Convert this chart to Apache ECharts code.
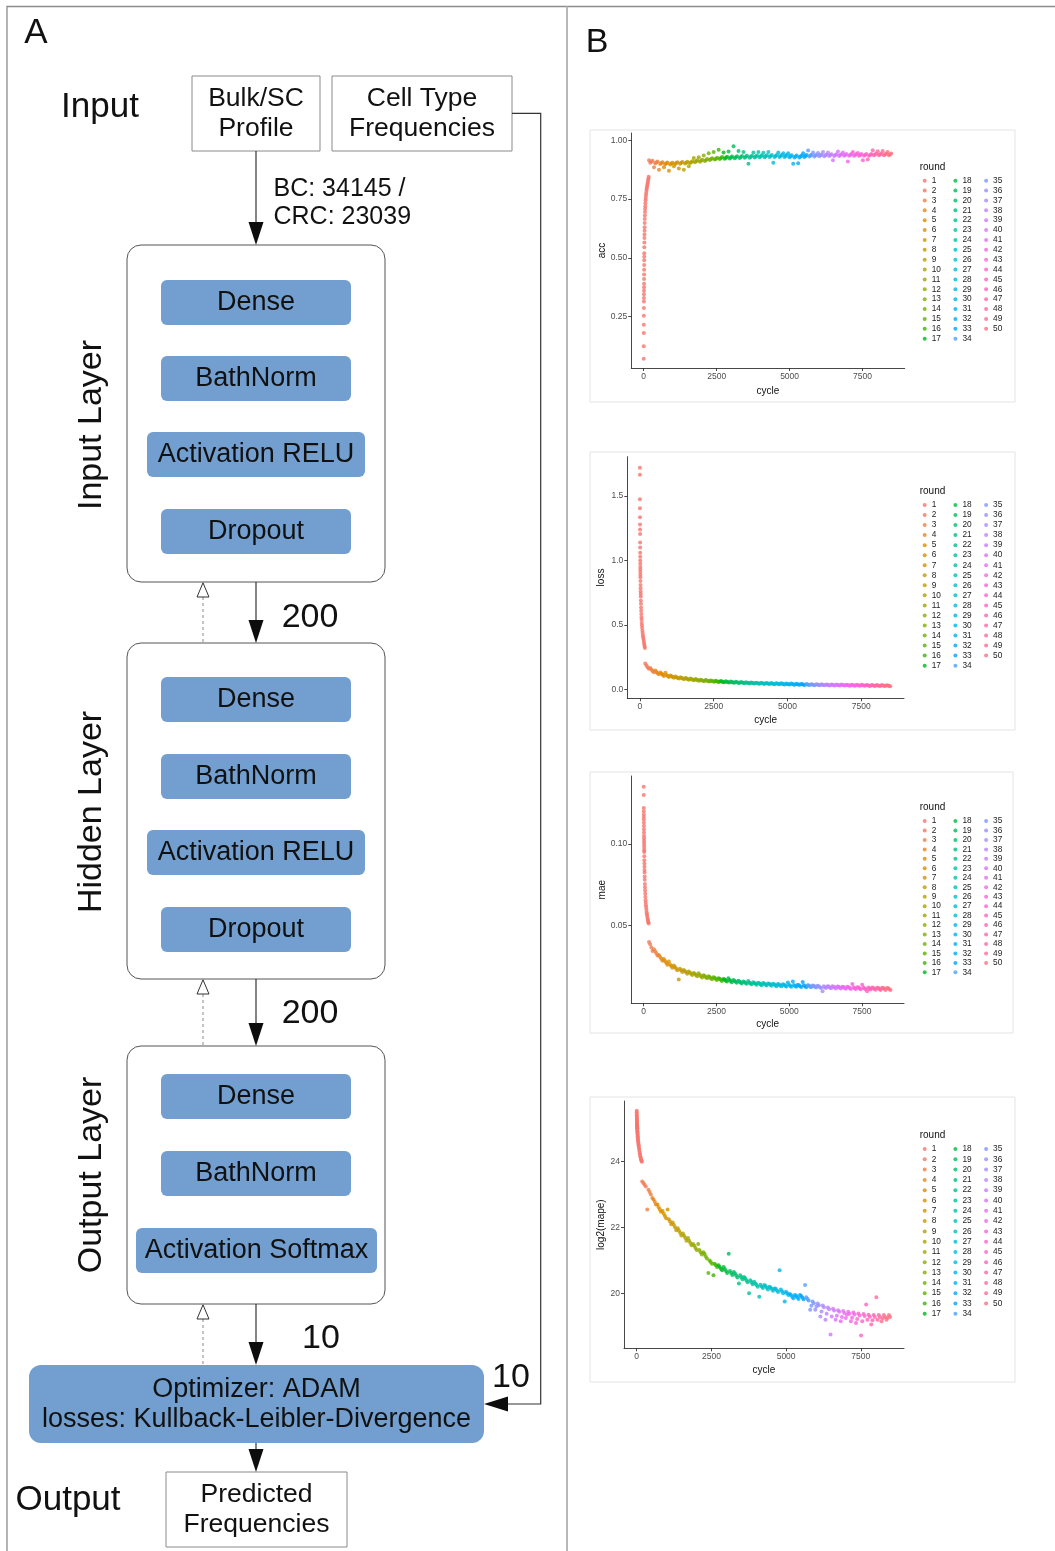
<!DOCTYPE html>
<html>
<head>
<meta charset="utf-8">
<script src="https://cdn.jsdelivr.net/npm/echarts@6.0.0/dist/echarts.min.js"></script>
<style>
  html, body { margin: 0; padding: 0; background: #ffffff; }
  #chart { width: 1055px; height: 1551px; }
</style>
</head>
<body>
<div id="chart"></div>
<script>
// ---------------- data ----------------
const rounds = Array.from({ length: 50 }, (_, i) => String(i + 1));
const cyclesPerRound = 170.4;
// epochs sampled inside each of rounds 2..50 (offset from the round start)
const sampleOffsets = [12, 52, 92, 132];

const cycleTicks = [0, 2500, 5000, 7500];
const accTicks = [0.25, 0.5, 0.75, 1.0];
const lossTicks = [0, 0.5, 1.0, 1.5];
const maeTicks = [0.05, 0.10];
const mapeTicks = [20, 22, 24];

// round 1: the first training round, sampled more densely
const roundOneCycles = [0,1,2,3,4,5,6,7,8,9,10,11,12,13,14,15,16,17,18,20,22,24,26,28,30,33,36,40,44,48,53,58,64,70,77,85,93,102,111,121,131,141,151,161,170];

const accRoundOne = [0.071,0.124,0.181,0.216,0.254,0.287,0.315,0.330,0.345,0.360,0.375,0.390,0.410,0.430,0.450,0.470,0.490,0.505,0.520,0.545,0.565,0.585,0.600,0.615,0.630,0.648,0.665,0.680,0.695,0.708,0.720,0.732,0.745,0.755,0.765,0.775,0.785,0.793,0.800,0.808,0.815,0.822,0.830,0.838,0.845];
const lossRoundOne = [1.720,1.665,1.475,1.405,1.335,1.280,1.240,1.205,1.140,1.100,1.060,1.030,1.000,0.975,0.950,0.930,0.910,0.890,0.870,0.840,0.810,0.785,0.760,0.740,0.720,0.690,0.665,0.635,0.610,0.585,0.560,0.540,0.515,0.495,0.475,0.455,0.437,0.420,0.405,0.390,0.375,0.360,0.345,0.333,0.320];
const maeRoundOne = [0.1350,0.1300,0.1220,0.1200,0.1180,0.1165,0.1150,0.1130,0.1110,0.1090,0.1070,0.1050,0.1035,0.1020,0.1005,0.0990,0.0975,0.0960,0.0950,0.0925,0.0900,0.0880,0.0860,0.0840,0.0825,0.0800,0.0780,0.0755,0.0735,0.0715,0.0695,0.0675,0.0655,0.0640,0.0625,0.0610,0.0595,0.0580,0.0570,0.0558,0.0547,0.0537,0.0528,0.0520,0.0512];
const mapeRoundOne = [25.55,25.50,25.45,25.41,25.37,25.33,25.30,25.27,25.24,25.21,25.18,25.15,25.13,25.10,25.08,25.06,25.04,25.02,25.00,24.96,24.93,24.90,24.87,24.84,24.81,24.77,24.74,24.70,24.66,24.62,24.58,24.54,24.50,24.46,24.41,24.36,24.31,24.26,24.21,24.16,24.12,24.08,24.05,24.02,24.00];

// rounds 2..50, four sampled epochs per round
const accLater = [
  0.915,0.905,0.909,0.913, 0.885,0.902,0.906,0.910, 0.875,0.899,0.903,0.907, 0.885,0.898,0.902,0.906,
  0.870,0.897,0.901,0.905, 0.890,0.899,0.903,0.907, 0.880,0.900,0.904,0.908, 0.875,0.901,0.905,0.909,
  0.890,0.903,0.907,0.911, 0.925,0.907,0.911,0.915, 0.928,0.909,0.913,0.917, 0.935,0.912,0.916,0.920,
  0.945,0.916,0.920,0.924, 0.950,0.918,0.922,0.926, 0.960,0.921,0.925,0.929, 0.948,0.922,0.926,0.930,
  0.952,0.923,0.927,0.931, 0.975,0.924,0.928,0.932, 0.955,0.925,0.929,0.933, 0.950,0.926,0.930,0.934,
  0.900,0.926,0.930,0.934, 0.948,0.927,0.931,0.935, 0.950,0.928,0.932,0.936, 0.947,0.928,0.932,0.936,
  0.950,0.929,0.933,0.937, 0.905,0.929,0.933,0.937, 0.948,0.929,0.933,0.937, 0.945,0.929,0.933,0.937,
  0.945,0.928,0.932,0.936, 0.900,0.927,0.931,0.935, 0.902,0.927,0.931,0.935, 0.945,0.929,0.933,0.937,
  0.957,0.931,0.935,0.939, 0.948,0.931,0.935,0.939, 0.946,0.932,0.936,0.940, 0.950,0.932,0.936,0.940,
  0.948,0.933,0.937,0.941, 0.915,0.933,0.937,0.941, 0.952,0.933,0.937,0.941, 0.948,0.934,0.938,0.942,
  0.910,0.934,0.938,0.942, 0.950,0.934,0.938,0.942, 0.946,0.934,0.938,0.942, 0.915,0.934,0.938,0.942,
  0.918,0.934,0.938,0.942, 0.958,0.936,0.940,0.944, 0.953,0.936,0.940,0.944, 0.955,0.936,0.940,0.944,
  0.950,0.936,0.940,0.944
];
const lossLater = [
  0.200,0.185,0.172,0.160, 0.165,0.152,0.142,0.132, 0.145,0.134,0.125,0.116, 0.130,0.120,0.112,0.104,
  0.128,0.110,0.103,0.096, 0.108,0.101,0.095,0.089, 0.100,0.094,0.088,0.083, 0.094,0.088,0.083,0.078,
  0.088,0.083,0.078,0.074, 0.083,0.078,0.074,0.070, 0.079,0.074,0.070,0.066, 0.075,0.071,0.067,0.063,
  0.072,0.068,0.064,0.061, 0.069,0.065,0.062,0.058, 0.066,0.063,0.059,0.056, 0.064,0.060,0.057,0.054,
  0.062,0.058,0.055,0.052, 0.060,0.056,0.053,0.050, 0.058,0.054,0.051,0.048, 0.056,0.053,0.050,0.047,
  0.054,0.051,0.048,0.045, 0.053,0.050,0.047,0.044, 0.051,0.048,0.045,0.043, 0.050,0.047,0.044,0.042,
  0.049,0.046,0.043,0.041, 0.048,0.045,0.042,0.040, 0.047,0.044,0.041,0.039, 0.046,0.043,0.040,0.038,
  0.045,0.042,0.039,0.037, 0.044,0.041,0.038,0.036, 0.043,0.040,0.037,0.035, 0.042,0.039,0.036,0.034,
  0.041,0.038,0.035,0.033, 0.040,0.037,0.034,0.032, 0.040,0.037,0.034,0.032, 0.039,0.036,0.033,0.031,
  0.038,0.035,0.032,0.030, 0.038,0.035,0.032,0.030, 0.037,0.034,0.031,0.029, 0.037,0.034,0.031,0.029,
  0.036,0.033,0.030,0.028, 0.036,0.033,0.030,0.028, 0.035,0.032,0.029,0.027, 0.035,0.032,0.029,0.027,
  0.034,0.031,0.028,0.026, 0.034,0.031,0.028,0.026, 0.033,0.030,0.027,0.025, 0.033,0.030,0.027,0.025,
  0.032,0.029,0.026,0.024
];
const maeLater = [
  0.0400,0.0385,0.0365,0.0345, 0.0355,0.0342,0.0330,0.0316, 0.0320,0.0308,0.0297,0.0284, 0.0295,0.0283,0.0272,0.0260,
  0.0280,0.0262,0.0253,0.0242, 0.0255,0.0247,0.0237,0.0227, 0.0170,0.0235,0.0226,0.0216, 0.0228,0.0222,0.0214,0.0205,
  0.0218,0.0213,0.0205,0.0197, 0.0210,0.0205,0.0197,0.0189, 0.0208,0.0198,0.0190,0.0182, 0.0196,0.0191,0.0184,0.0177,
  0.0190,0.0185,0.0178,0.0171, 0.0184,0.0180,0.0173,0.0166, 0.0178,0.0175,0.0168,0.0161, 0.0173,0.0170,0.0164,0.0157,
  0.0178,0.0166,0.0160,0.0153, 0.0166,0.0162,0.0156,0.0150, 0.0162,0.0158,0.0152,0.0146, 0.0158,0.0155,0.0149,0.0143,
  0.0160,0.0152,0.0146,0.0140, 0.0153,0.0149,0.0143,0.0137, 0.0150,0.0147,0.0141,0.0135, 0.0148,0.0145,0.0139,0.0133,
  0.0146,0.0143,0.0137,0.0131, 0.0144,0.0141,0.0135,0.0129, 0.0142,0.0139,0.0133,0.0128, 0.0140,0.0138,0.0132,0.0127,
  0.0152,0.0137,0.0131,0.0126, 0.0157,0.0136,0.0130,0.0125, 0.0137,0.0135,0.0129,0.0124, 0.0154,0.0134,0.0128,0.0123,
  0.0135,0.0133,0.0127,0.0122, 0.0133,0.0131,0.0125,0.0120, 0.0131,0.0129,0.0123,0.0118, 0.0098,0.0128,0.0122,0.0117,
  0.0129,0.0127,0.0121,0.0116, 0.0128,0.0126,0.0120,0.0115, 0.0127,0.0125,0.0119,0.0114, 0.0126,0.0124,0.0118,0.0113,
  0.0125,0.0123,0.0117,0.0112, 0.0142,0.0122,0.0116,0.0111, 0.0123,0.0121,0.0115,0.0110, 0.0137,0.0121,0.0115,0.0110,
  0.0098,0.0120,0.0114,0.0109, 0.0120,0.0118,0.0112,0.0107, 0.0119,0.0117,0.0111,0.0106, 0.0119,0.0117,0.0111,0.0106,
  0.0118,0.0116,0.0110,0.0105
];
const mapeLater = [
  23.40,23.35,23.30,23.25, 22.55,23.15,23.08,23.00, 22.90,22.85,22.78,22.70, 22.70,22.62,22.55,22.48,
  22.50,22.42,22.35,22.28, 22.55,22.25,22.18,22.10, 22.15,22.08,22.00,21.92, 21.98,21.90,21.83,21.76,
  21.82,21.75,21.68,21.60, 21.68,21.60,21.53,21.46, 21.50,21.45,21.38,21.32, 21.50,21.32,21.25,21.18,
  21.25,21.20,21.13,21.06, 20.62,21.00,20.95,20.90, 20.55,20.90,20.85,20.80, 20.85,20.80,20.75,20.70,
  20.80,20.74,20.68,20.62, 21.20,20.68,20.62,20.56, 20.65,20.60,20.54,20.48, 20.30,20.55,20.49,20.43,
  20.50,20.46,20.40,20.34, 20.00,20.40,20.34,20.28, 20.35,20.30,20.25,20.20, 19.90,20.26,20.21,20.16,
  20.25,20.22,20.17,20.12, 20.20,20.18,20.13,20.08, 20.15,20.14,20.09,20.04, 20.70,20.12,20.06,20.00,
  19.75,20.05,20.00,19.95, 19.98,19.95,19.90,19.85, 19.95,19.93,19.88,19.83, 19.95,19.92,19.87,19.82,
  20.25,19.88,19.83,19.78, 19.50,19.62,19.75,19.70, 19.50,19.60,19.69,19.64, 19.30,19.45,19.63,19.58,
  19.20,19.38,19.57,19.52, 18.75,19.30,19.53,19.48, 19.20,19.32,19.49,19.44, 19.15,19.28,19.46,19.40,
  19.25,19.35,19.44,19.38, 19.15,19.26,19.42,19.36, 19.10,19.22,19.39,19.33, 18.72,19.15,19.37,19.31,
  19.66,19.20,19.35,19.29, 19.05,19.18,19.34,19.28, 19.88,19.20,19.34,19.28, 19.15,19.24,19.34,19.28,
  19.20,19.26,19.34,19.28
];

// ---------------- styling helpers ----------------
const FONT = '"Liberation Sans", Arial, Helvetica, sans-serif';
const BOX_BLUE = '#729fcf';
const INK = '#111111';

// ggplot-style hue palette: polar LUV (hcl) to sRGB
function hclColor(h, c, l) {
  const hr = h * Math.PI / 180;
  const U = c * Math.cos(hr), V = c * Math.sin(hr);
  const Xn = 95.047, Yn = 100.0, Zn = 108.883;
  const den = Xn + 15 * Yn + 3 * Zn;
  const un = 4 * Xn / den, vn = 9 * Yn / den;
  const Y = Yn * Math.pow((l + 16) / 116, 3);
  const u = U / (13 * l) + un, v = V / (13 * l) + vn;
  const X = Y * 9 * u / (4 * v);
  const Z = Y * (12 - 3 * u - 20 * v) / (4 * v);
  const x = X / 100, y = Y / 100, z = Z / 100;
  const lin = [
    3.240479 * x - 1.537150 * y - 0.498535 * z,
    -0.969256 * x + 1.875992 * y + 0.041556 * z,
    0.055648 * x - 0.204043 * y + 1.057311 * z
  ];
  const ch = lin.map(t => {
    const g = t <= 0.0031308 ? 12.92 * t : 1.055 * Math.pow(t, 1 / 2.4) - 0.055;
    return Math.round(Math.min(1, Math.max(0, g)) * 255);
  });
  return 'rgb(' + ch.join(',') + ')';
}
const roundColors = rounds.map((_, i) => hclColor(15 + i * 360 / rounds.length, 100, 65));

// ---------------- panel B layout ----------------
const panels = [
  { title: 'acc', first: accRoundOne, later: accLater, ticks: accTicks, digits: 2,
    grid: { left: 631.3, top: 133, width: 273.4, height: 235 }, yMin: 0.032, yMax: 1.031,
    xGap: 18.5, yGap: 24.5, frame: [590, 130, 425, 272],
    legend: { top: 180.7, pitch: 9.875 }, roundY: 167 },
  { title: 'loss', first: lossRoundOne, later: lossLater, ticks: lossTicks, digits: 1,
    grid: { left: 627.3, top: 456.7, width: 276.7, height: 241.6 }, yMin: -0.07, yMax: 1.806,
    xGap: 16.5, yGap: 21, frame: [590, 452, 425, 278],
    legend: { top: 505, pitch: 10.04 }, roundY: 491.7 },
  { title: 'mae', first: maeRoundOne, later: maeLater, ticks: maeTicks, digits: 2,
    grid: { left: 631.3, top: 776, width: 272.7, height: 227.3 }, yMin: 0.0024, yMax: 0.1416,
    xGap: 16, yGap: 24.5, frame: [590, 772, 423, 261],
    legend: { top: 821, pitch: 9.46 }, roundY: 807.3 },
  { title: 'log2(mape)', first: mapeRoundOne, later: mapeLater, ticks: mapeTicks, digits: 0,
    grid: { left: 624, top: 1101, width: 280, height: 247.3 }, yMin: 18.33, yMax: 25.845,
    xGap: 17, yGap: 17, frame: [590, 1097, 425, 285],
    legend: { top: 1149, pitch: 10.3 }, roundY: 1135 }
];

const axisLineStyle = { color: '#333333', width: 0.9 };

const grids = panels.map(p => Object.assign({}, p.grid, { containLabel: false }));

const xAxes = panels.map((p, i) => ({
  type: 'value', gridIndex: i, min: -426, max: 8946,
  name: 'cycle', nameLocation: 'middle', nameGap: p.xGap,
  nameTextStyle: { fontSize: 10, color: INK, fontFamily: FONT },
  axisLine: { show: true, onZero: false, lineStyle: axisLineStyle },
  axisTick: { show: true, length: 3, customValues: cycleTicks, lineStyle: axisLineStyle },
  axisLabel: { customValues: cycleTicks, fontSize: 8.5, color: '#4d4d4d', margin: 4, fontFamily: FONT,
    formatter: v => String(v) },
  splitLine: { show: false }
}));

const yAxes = panels.map((p, i) => ({
  type: 'value', gridIndex: i, min: p.yMin, max: p.yMax,
  name: p.title, nameLocation: 'middle', nameGap: p.yGap,
  nameTextStyle: { fontSize: 10, color: INK, fontFamily: FONT },
  axisLine: { show: true, onZero: false, lineStyle: axisLineStyle },
  axisTick: { show: true, length: 3, customValues: p.ticks, lineStyle: axisLineStyle },
  axisLabel: { customValues: p.ticks, fontSize: 8.5, color: '#4d4d4d', margin: 4, fontFamily: FONT,
    formatter: v => Number(v).toFixed(p.digits) },
  splitLine: { show: false }
}));

const series = [];
panels.forEach((p, pi) => {
  rounds.forEach((name, ri) => {
    const data = ri === 0
      ? roundOneCycles.map((c, k) => [c, p.first[k]])
      : sampleOffsets.map((o, k) => [ri * cyclesPerRound + o, p.later[(ri - 1) * sampleOffsets.length + k]]);
    series.push({
      type: 'scatter', name, xAxisIndex: pi, yAxisIndex: pi, data,
      symbol: 'circle', symbolSize: 4,
      itemStyle: { color: roundColors[ri], borderWidth: 0 },
      emphasis: { disabled: true }, silent: true
    });
  });
});

const legendGap = 0.7;
const legends = panels.map(p => {
  const lh = p.legend.pitch - legendGap;
  return {
    data: rounds, orient: 'vertical', left: 922.7, top: p.legend.top - lh / 2,
    height: lh * 17 + legendGap * 16 + 3, padding: 0, itemGap: legendGap,
    itemWidth: 4, itemHeight: 4, itemTextGap: 4.3, icon: 'circle', selectedMode: false,
    itemStyle: { borderWidth: 0 },
    textStyle: { fontSize: 8.3, lineHeight: lh, width: 21, color: '#222222', fontFamily: FONT }
  };
});

// ---------------- panel A: network diagram ----------------
function text(x, y, str, size, opt) {
  opt = opt || {};
  return {
    type: 'text', x, y, rotation: opt.rotation || 0, z: 10,
    style: {
      text: str, fontSize: size, fontFamily: FONT, fill: opt.fill || INK,
      align: opt.align || 'center', verticalAlign: 'middle',
      textAlign: opt.align || 'center', textVerticalAlign: 'middle',
      lineHeight: opt.lineHeight || Math.round(size * 1.15)
    }
  };
}
function rect(x, y, w, h, r, fill, stroke, lw) {
  return { type: 'rect', z: 5, shape: { x, y, width: w, height: h, r },
    style: { fill: fill, stroke: stroke || null, lineWidth: stroke ? (lw || 1) : 0 } };
}
function arrowDown(x, y1, y2) {
  return [
    { type: 'line', z: 6, shape: { x1: x, y1: y1, x2: x, y2: y2 - 20 }, style: { stroke: '#333333', lineWidth: 1.2 } },
    { type: 'polygon', z: 7, shape: { points: [[x, y2], [x - 7.5, y2 - 23], [x + 7.5, y2 - 23]] }, style: { fill: '#0d0d0d' } }
  ];
}
function backArrow(x, yTop, yBottom) {
  return [
    { type: 'line', z: 6, shape: { x1: x, y1: yTop + 15, x2: x, y2: yBottom }, style: { stroke: '#8a8a8a', lineWidth: 1, lineDash: [3, 3] } },
    { type: 'polygon', z: 7, shape: { points: [[x, yTop + 0.8], [x - 6, yTop + 15], [x + 6, yTop + 15]] }, style: { fill: '#ffffff', stroke: '#333333', lineWidth: 1 } }
  ];
}

const layerBoxes = [
  ['Dense', 161, 280, 190], ['BathNorm', 161, 356, 190], ['Activation RELU', 147, 432, 218], ['Dropout', 161, 509, 190],
  ['Dense', 161, 677, 190], ['BathNorm', 161, 754, 190], ['Activation RELU', 147, 830, 218], ['Dropout', 161, 907, 190],
  ['Dense', 161, 1074, 190], ['BathNorm', 161, 1151, 190], ['Activation Softmax', 136, 1228, 241]
];

const g = [];
// figure frame and panel divider
g.push({ type: 'polyline', z: 1, shape: { points: [[7, 1551], [7, 6.5], [1055, 6.5]] }, style: { stroke: '#8c8c8c', lineWidth: 1.3, fill: null } });
g.push({ type: 'line', z: 1, shape: { x1: 567, y1: 6.5, x2: 567, y2: 1551 }, style: { stroke: '#b8b8b8', lineWidth: 2 } });

g.push(text(36, 33, 'A', 35));
g.push(text(597, 43, 'B', 34));
g.push(text(100, 107, 'Input', 35));
g.push(text(68, 1500, 'Output', 35));

// input boxes
g.push(rect(192, 76, 128, 75, 0, '#ffffff', '#8a8a8a'));
g.push(text(256, 113.5, 'Bulk/SC\nProfile', 26.5, { lineHeight: 30 }));
g.push(rect(332, 76, 180, 75, 0, '#ffffff', '#8a8a8a'));
g.push(text(422, 113.5, 'Cell Type\nFrequencies', 26.5, { lineHeight: 30 }));

// reference frequencies routed to the loss
g.push({ type: 'polyline', z: 6, shape: { points: [[512, 113.3], [540.7, 113.3], [540.7, 1404], [506, 1404]] }, style: { stroke: '#333333', lineWidth: 1.2, fill: null } });
g.push({ type: 'polygon', z: 7, shape: { points: [[484, 1404], [508, 1396.5], [508, 1411.5]] }, style: { fill: '#0d0d0d' } });
g.push(text(511, 1378, '10', 34));

// input arrow
g.push(...arrowDown(256, 151, 245));
g.push(text(273.5, 203.3, 'BC: 34145 /\nCRC: 23039', 25, { align: 'left', lineHeight: 28 }));

// layer containers
g.push(rect(127, 245, 258, 337, 14, null, '#555555'));
g.push(rect(127, 643, 258, 336, 14, null, '#555555'));
g.push(rect(127, 1046, 258, 258, 14, null, '#555555'));
g.push(text(92, 425, 'Input Layer', 34, { rotation: Math.PI / 2 }));
g.push(text(92, 812, 'Hidden Layer', 34, { rotation: Math.PI / 2 }));
g.push(text(92, 1175, 'Output Layer', 34, { rotation: Math.PI / 2 }));

layerBoxes.forEach(b => {
  g.push(rect(b[1], b[2], b[3], 45, 6, BOX_BLUE, null));
  g.push(text(b[1] + b[3] / 2, b[2] + 23, b[0], 27));
});

// forward pass arrows and layer widths
g.push(...arrowDown(256, 582, 643));
g.push(text(310, 617.5, '200', 34));
g.push(...arrowDown(256, 979, 1046));
g.push(text(310, 1014, '200', 34));
g.push(...arrowDown(256, 1304, 1365));
g.push(text(321, 1339, '10', 34));

// backpropagation arrows
g.push(...backArrow(203, 582, 643));
g.push(...backArrow(203, 979, 1046));
g.push(...backArrow(203, 1304, 1365));

// optimizer and output
g.push(rect(29, 1365, 455, 78, 12, BOX_BLUE, null));
g.push(text(256.5, 1405, 'Optimizer: ADAM\nlosses: Kullback-Leibler-Divergence', 27, { lineHeight: 30 }));
g.push(...arrowDown(256, 1443, 1472));
g.push(rect(166, 1472, 181, 75, 0, '#ffffff', '#8a8a8a'));
g.push(text(256.5, 1510, 'Predicted\nFrequencies', 26.5, { lineHeight: 30 }));

// panel B: plot frames and legend titles
panels.forEach(p => {
  const f = p.frame;
  g.push({ type: 'rect', z: 0, shape: { x: f[0], y: f[1], width: f[2], height: f[3] }, style: { fill: null, stroke: '#e4e4e4', lineWidth: 1 } });
  g.push(text(919.7, p.roundY, 'round', 10, { align: 'left' }));
});

const chart = echarts.init(document.getElementById('chart'), null, { renderer: 'canvas' });
chart.setOption({
  animation: false,
  backgroundColor: '#ffffff',
  textStyle: { fontFamily: FONT },
  grid: grids,
  xAxis: xAxes,
  yAxis: yAxes,
  legend: legends,
  series: series,
  graphic: { elements: g }
});
</script>
</body>
</html>
